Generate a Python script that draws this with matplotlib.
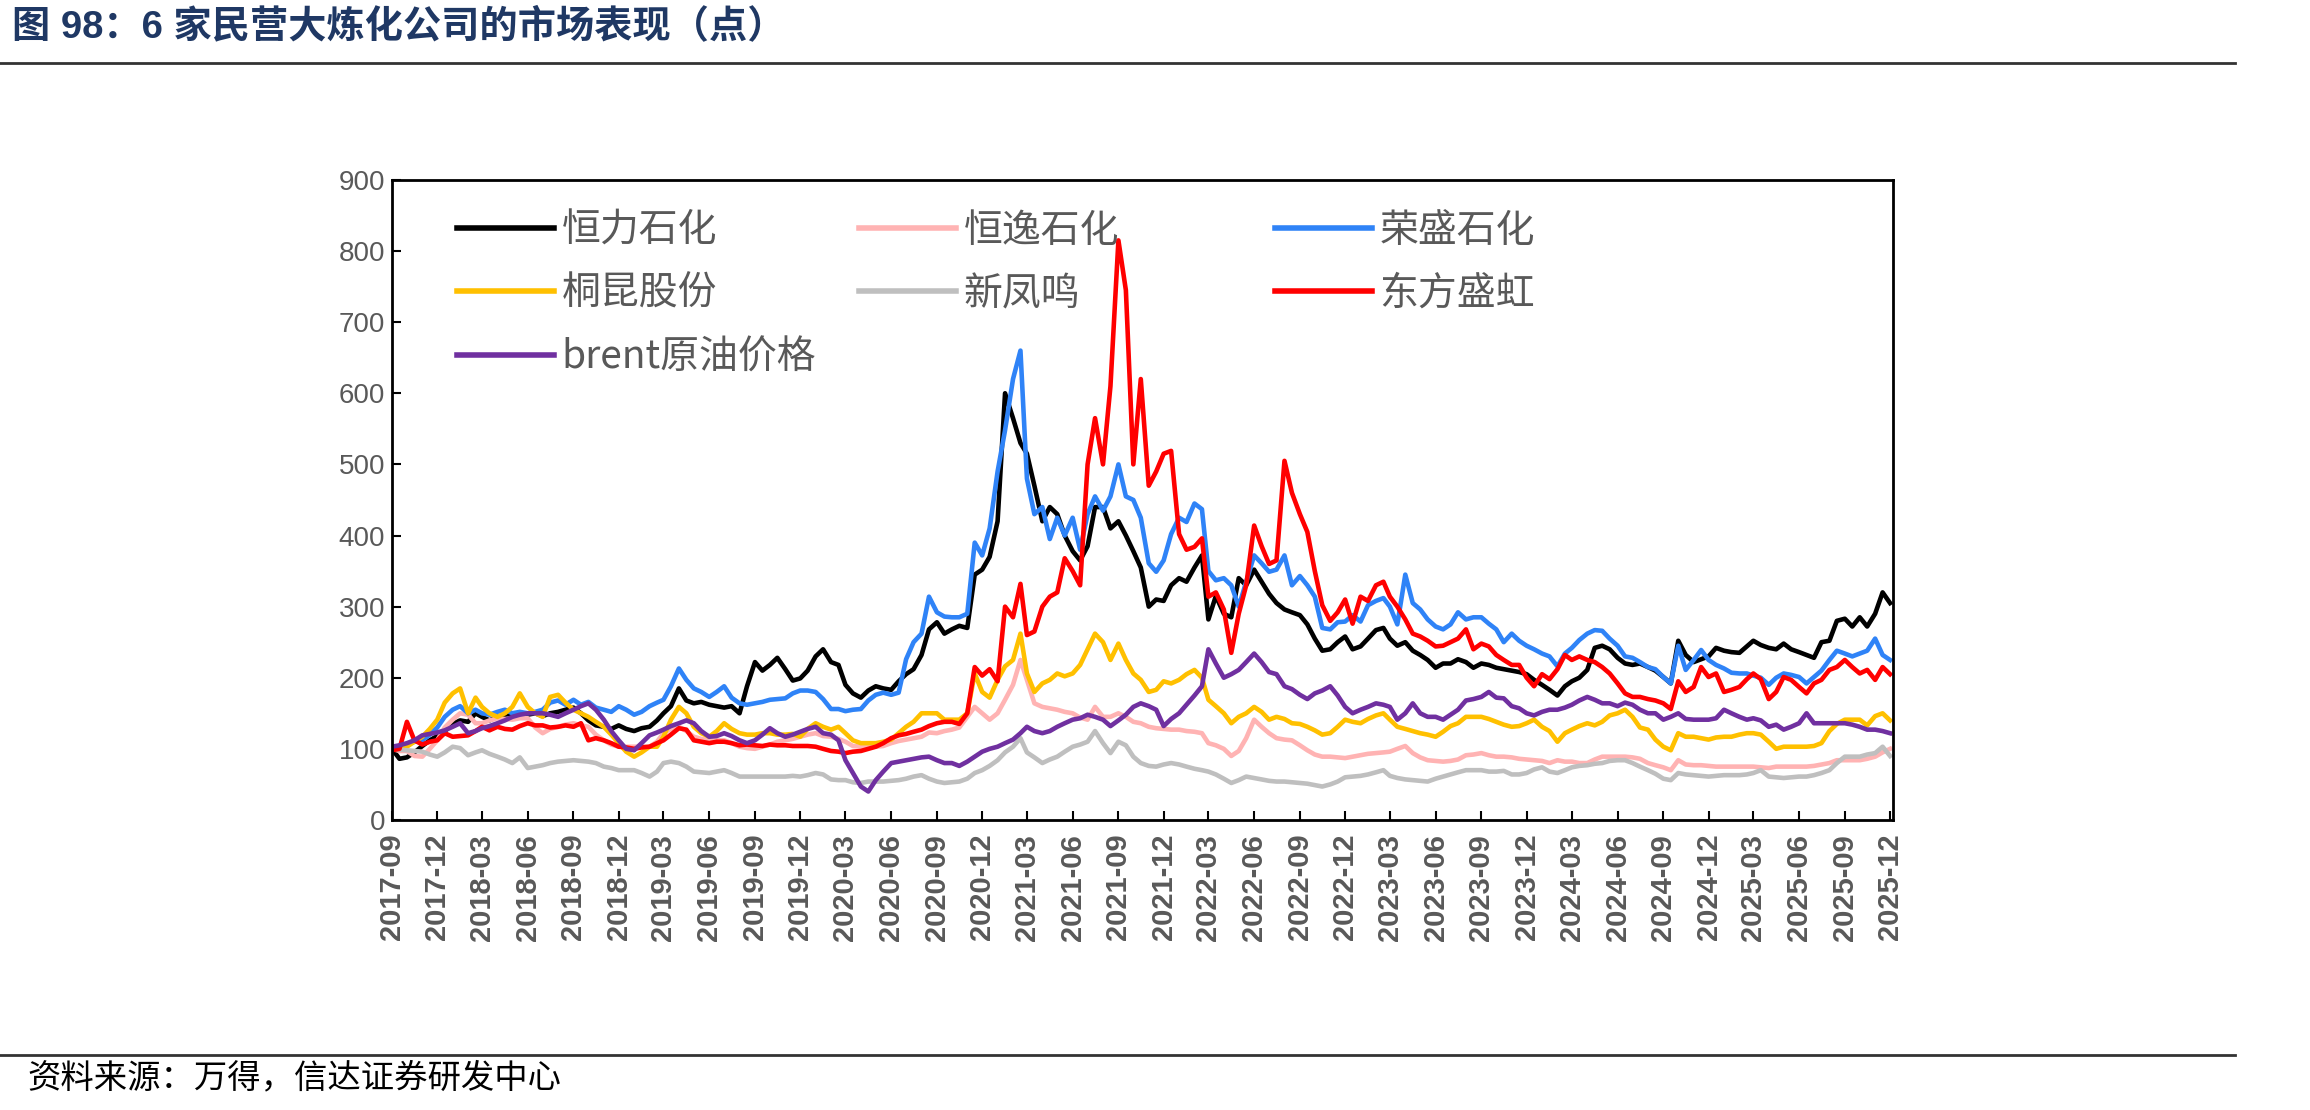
import pandas as pd
import matplotlib
matplotlib.use('Agg')
import matplotlib.pyplot as plt
import matplotlib.dates as mdates
from matplotlib.legend import Legend
from matplotlib.lines import Line2D

plt.rcParams['font.family'] = ['Liberation Sans', 'Noto Sans CJK SC']

# half-month samples (1st and 16th) from 2017-09-01 to 2025-12-01
hengli = [
    100, 86, 88, 95, 104, 112, 118, 125, 135, 140, 138, 150, 145, 140, 145, 148, 150, 146, 148, 150, 146, 150, 152, 155,
    158, 150, 140, 133, 131, 128, 133, 128, 125, 129, 131, 140, 150, 160, 185, 168, 164, 166, 162, 160, 158, 160, 150, 188,
    222, 210, 218, 228, 212, 196, 199, 210, 230, 240, 222, 218, 190, 178, 172, 182, 188, 185, 183, 195, 205, 212, 232, 268,
    278, 262, 268, 273, 270, 345, 352, 370, 420, 600, 565, 530, 515, 470, 420, 440, 430, 400, 378, 365, 385, 440, 440, 410,
    420, 400, 378, 355, 300, 310, 308, 330, 340, 335, 355, 372, 282, 315, 290, 285, 340, 330, 352, 335, 318, 305, 296, 292,
    288, 275, 255, 238, 240, 250, 258, 240, 244, 255, 267, 270, 255, 245, 250, 238, 232, 225, 214, 220, 220, 226, 222, 214,
    220, 218, 214, 212, 210, 208, 205, 197, 190, 183, 175, 188, 195, 200, 211, 242, 245, 240, 228, 220, 218, 220, 215, 210,
    201, 192, 252, 232, 222, 226, 230, 242, 238, 236, 235, 244, 252, 246, 242, 240, 248, 240, 236, 232, 228, 250, 252, 280,
    283, 272, 285, 272, 290, 320, 305]
hengyi = [
    100, 97, 97, 90, 89, 100, 112, 130, 141, 150, 148, 136, 136, 140, 143, 142, 141, 143, 143, 130, 122, 128, 131, 134,
    136, 133, 131, 120, 112, 106, 103, 103, 103, 103, 103, 110, 122, 128, 131, 125, 117, 114, 112, 112, 112, 108, 103, 101,
    100, 103, 106, 110, 112, 114, 117, 120, 122, 118, 117, 114, 110, 104, 103, 103, 103, 104, 108, 111, 113, 115, 117, 123,
    122, 125, 127, 130, 145, 159, 150, 141, 150, 169, 190, 225, 197, 164, 159, 157, 155, 152, 150, 144, 141, 159, 145, 145,
    150, 145, 138, 136, 131, 129, 128, 127, 127, 125, 124, 122, 108, 105, 100, 90, 97, 115, 141, 131, 122, 115, 113, 112,
    105, 98, 92, 89, 89, 88, 87, 89, 91, 93, 94, 95, 96, 100, 104, 94, 88, 84, 83, 82, 83, 85, 91, 92,
    94, 91, 89, 89, 88, 86, 85, 84, 83, 80, 84, 82, 82, 80, 80, 85, 89, 89, 89, 89, 88, 86, 80, 77,
    74, 70, 84, 78, 77, 77, 76, 75, 75, 75, 75, 75, 75, 74, 73, 75, 75, 75, 75, 75, 76, 78, 80, 84,
    84, 84, 84, 86, 89, 95, 100]
rongsheng = [
    100, 102, 106, 110, 112, 120, 130, 145, 155, 160, 150, 155, 150, 148, 152, 155, 150, 152, 150, 152, 155, 165, 168, 162,
    169, 162, 166, 158, 155, 152, 160, 155, 148, 152, 160, 165, 169, 188, 213, 197, 185, 180, 173, 180, 188, 172, 164, 162,
    164, 166, 169, 170, 171, 178, 182, 182, 180, 170, 156, 156, 153, 155, 156, 168, 176, 179, 176, 179, 226, 250, 262, 314,
    292, 286, 285, 285, 290, 390, 372, 410, 490, 548, 620, 660, 480, 430, 440, 395, 425, 400, 425, 380, 430, 455, 435, 455,
    500, 455, 450, 425, 361, 349, 365, 402, 425, 419, 445, 437, 350, 337, 340, 330, 300, 335, 372, 361, 349, 352, 372, 330,
    343, 330, 314, 270, 268, 278, 279, 288, 279, 302, 308, 312, 300, 275, 345, 305, 296, 282, 272, 268, 275, 292, 282, 285,
    285, 276, 268, 250, 262, 252, 245, 240, 234, 230, 216, 234, 242, 253, 262, 267, 266, 255, 245, 230, 228, 222, 215, 212,
    201, 192, 245, 211, 225, 239, 225, 218, 213, 207, 206, 206, 203, 200, 190, 200, 206, 204, 201, 192, 201, 210, 225, 238,
    234, 230, 234, 238, 255, 232, 225]
tongkun = [
    100, 102, 103, 110, 117, 128, 141, 165, 178, 185, 150, 172, 159, 150, 145, 150, 159, 178, 159, 150, 145, 173, 176, 165,
    155, 150, 145, 138, 131, 120, 108, 96, 89, 95, 103, 103, 117, 141, 159, 150, 131, 122, 117, 125, 136, 128, 122, 120,
    120, 122, 122, 120, 120, 121, 117, 128, 136, 131, 127, 131, 122, 112, 108, 108, 108, 110, 113, 122, 131, 138, 150, 150,
    150, 141, 141, 141, 150, 206, 180, 172, 197, 216, 225, 262, 206, 180, 192, 197, 206, 202, 206, 218, 240, 262, 250, 225,
    248, 225, 206, 197, 180, 183, 195, 192, 197, 205, 211, 200, 169, 160, 150, 136, 145, 150, 159, 152, 141, 145, 142, 136,
    135, 131, 126, 120, 122, 131, 141, 138, 136, 142, 147, 150, 141, 131, 128, 125, 122, 120, 117, 124, 132, 136, 145, 145,
    145, 142, 138, 134, 131, 132, 136, 141, 131, 125, 110, 122, 127, 132, 136, 133, 138, 147, 150, 155, 145, 130, 127, 113,
    103, 98, 122, 117, 117, 115, 113, 116, 117, 117, 120, 122, 122, 120, 110, 100, 103, 103, 103, 103, 104, 108, 125, 135,
    141, 141, 141, 133, 146, 150, 140]
xinfengming = [
    100, 99, 98, 97, 96, 92, 89, 95, 103, 101, 91, 95, 98, 93, 89, 85, 80, 88, 73, 75, 77, 80, 82, 83,
    84, 83, 82, 80, 75, 73, 70, 70, 70, 66, 61, 68, 80, 82, 80, 75, 68, 67, 66, 68, 70, 66, 61, 61,
    61, 61, 61, 61, 61, 62, 61, 63, 66, 64, 57, 56, 56, 53, 52, 54, 54, 54, 55, 56, 58, 61, 63, 58,
    54, 52, 53, 54, 58, 66, 70, 76, 84, 95, 103, 115, 95, 88, 80, 85, 89, 96, 103, 106, 110, 125, 108, 94,
    110, 105, 89, 80, 76, 75, 78, 80, 78, 75, 72, 70, 68, 64, 58, 52, 56, 61, 59, 57, 55, 54, 54, 53,
    52, 51, 49, 47, 50, 54, 60, 61, 62, 64, 67, 70, 62, 59, 57, 56, 55, 54, 58, 61, 64, 67, 70, 70,
    70, 68, 68, 69, 64, 64, 66, 71, 74, 68, 66, 70, 74, 76, 77, 79, 80, 83, 84, 84, 80, 75, 70, 65,
    58, 56, 66, 64, 63, 62, 61, 62, 63, 63, 63, 64, 66, 70, 61, 60, 59, 60, 61, 61, 63, 66, 70, 80,
    89, 89, 89, 92, 94, 103, 90]
dongfang = [
    98, 100, 138, 112, 106, 110, 112, 122, 117, 118, 119, 125, 131, 126, 131, 128, 127, 132, 136, 133, 133, 130, 131, 133,
    131, 136, 112, 115, 112, 108, 103, 102, 100, 102, 103, 108, 112, 120, 129, 127, 112, 110, 108, 110, 110, 108, 105, 106,
    105, 104, 106, 105, 105, 104, 104, 104, 103, 100, 97, 96, 94, 96, 97, 100, 103, 108, 115, 119, 121, 124, 127, 132,
    136, 138, 138, 135, 150, 215, 203, 212, 195, 300, 285, 332, 260, 265, 300, 314, 320, 368, 350, 330, 500, 565, 500, 610,
    815, 745, 500, 620, 470, 490, 515, 519, 402, 380, 384, 396, 314, 320, 296, 235, 290, 330, 414, 385, 360, 365, 505, 460,
    430, 405, 350, 302, 280, 292, 310, 276, 314, 308, 330, 335, 314, 300, 282, 262, 258, 252, 244, 245, 250, 255, 268, 240,
    248, 244, 232, 225, 218, 218, 200, 188, 205, 198, 212, 232, 225, 230, 225, 222, 215, 206, 192, 178, 173, 173, 170, 168,
    164, 156, 195, 180, 187, 215, 201, 206, 180, 183, 187, 198, 206, 198, 170, 180, 201, 197, 187, 178, 192, 197, 211, 215,
    225, 215, 206, 211, 197, 215, 205]
brent = [
    103, 105, 108, 112, 119, 121, 123, 126, 131, 136, 122, 125, 129, 132, 136, 140, 145, 148, 150, 150, 150, 148, 145, 150,
    155, 160, 164, 155, 141, 125, 112, 100, 98, 108, 119, 123, 127, 132, 136, 140, 136, 125, 117, 118, 122, 118, 112, 108,
    112, 120, 129, 122, 117, 120, 124, 128, 131, 122, 120, 112, 84, 66, 47, 40, 56, 68, 80, 82, 84, 86, 88, 89,
    84, 80, 80, 76, 82, 89, 96, 100, 103, 108, 113, 122, 131, 125, 122, 125, 131, 136, 141, 143, 148, 145, 141, 132,
    140, 148, 159, 164, 160, 155, 132, 142, 150, 162, 175, 188, 240, 220, 200, 205, 211, 222, 234, 222, 208, 205, 188, 184,
    176, 170, 178, 182, 188, 175, 159, 150, 155, 159, 164, 162, 159, 141, 150, 164, 150, 145, 145, 141, 148, 155, 168, 170,
    173, 180, 172, 171, 160, 157, 150, 147, 152, 155, 155, 158, 162, 168, 173, 169, 164, 164, 160, 165, 162, 155, 150, 150,
    141, 145, 150, 142, 141, 141, 141, 143, 155, 150, 145, 141, 143, 140, 131, 134, 127, 131, 136, 150, 136, 136, 136, 136,
    136, 134, 131, 127, 127, 125, 122]

names = ['恒力石化', '恒逸石化', '荣盛石化', '桐昆股份', '新凤鸣', '东方盛虹', 'brent原油价格']
colors = ['#000000', '#FFB3B3', '#2F83F7', '#FFC000', '#BFBFBF', '#FF0000', '#7030A0']
values = [hengli, hengyi, rongsheng, tongkun, xinfengming, dongfang, brent]

dates = []
for d in pd.date_range('2017-09-01', '2025-12-01', freq='MS'):
    dates.append(d)
    dates.append(d + pd.Timedelta(days=15))
dates = dates[:len(hengli)]

fig = plt.figure(figsize=(23.1, 11.1), dpi=100)
ax = fig.add_axes([0.1697, 0.2613, 0.6498, 0.5766])

lines = {}
for name, vals, c in zip(names, values, colors):
    ln, = ax.plot(dates, vals, color=c, lw=3.3, label=name)
    lines[name] = ln

ax.set_ylim(0, 900)
ax.set_yticks(range(0, 901, 100))
ax.set_xlim(pd.Timestamp('2017-09-01'), pd.Timestamp('2025-12-07'))
ax.xaxis.set_major_locator(mdates.MonthLocator(bymonth=[3, 6, 9, 12]))
ax.xaxis.set_major_formatter(mdates.DateFormatter('%Y-%m'))

ax.tick_params(axis='y', direction='in', length=6.5, width=1.5, pad=5, labelsize=20, labelcolor='#595959')
ax.tick_params(axis='x', direction='in', length=6.5, width=1.5, pad=10, labelsize=21, labelcolor='#595959')
for lbl in ax.get_xticklabels():
    lbl.set_rotation(90)
    lbl.set_fontweight('bold')
for s in ax.spines.values():
    s.set_linewidth(2)
    s.set_color('black')

# legend: three columns like the original
cols = [['恒力石化', '桐昆股份', 'brent原油价格'], ['恒逸石化', '新凤鸣'], ['荣盛石化', '东方盛虹']]
xs = [0.043, 0.311, 0.588]
for col, x in zip(cols, xs):
    leg = Legend(ax, [lines[n] for n in col], col, loc='upper left', bbox_to_anchor=(x, 0.952),
                 frameon=False, prop={'family': ['Noto Sans CJK SC'], 'size': 28},
                 handlelength=2.5, handletextpad=0.2, labelspacing=0.6, borderpad=0, borderaxespad=0,
                 labelcolor='#595959')
    for h in leg.legend_handles:
        h.set_linewidth(4)
    ax.add_artist(leg)

fig.text(0.005, 0.9757, '图 98：6 家民营大炼化公司的市场表现（点）', fontsize=27.5, fontweight='bold',
         color='#1F3864', va='center', ha='left')
fig.add_artist(Line2D([0, 0.9675], [0.9432, 0.9432], transform=fig.transFigure, color='#333333', lw=2))
fig.add_artist(Line2D([0, 0.9675], [0.0495, 0.0495], transform=fig.transFigure, color='#333333', lw=2))
fig.text(0.0117, 0.0288, '资料来源：万得，信达证券研发中心', fontsize=24, color='black', va='center', ha='left')

fig.savefig('out.png', dpi=100)
